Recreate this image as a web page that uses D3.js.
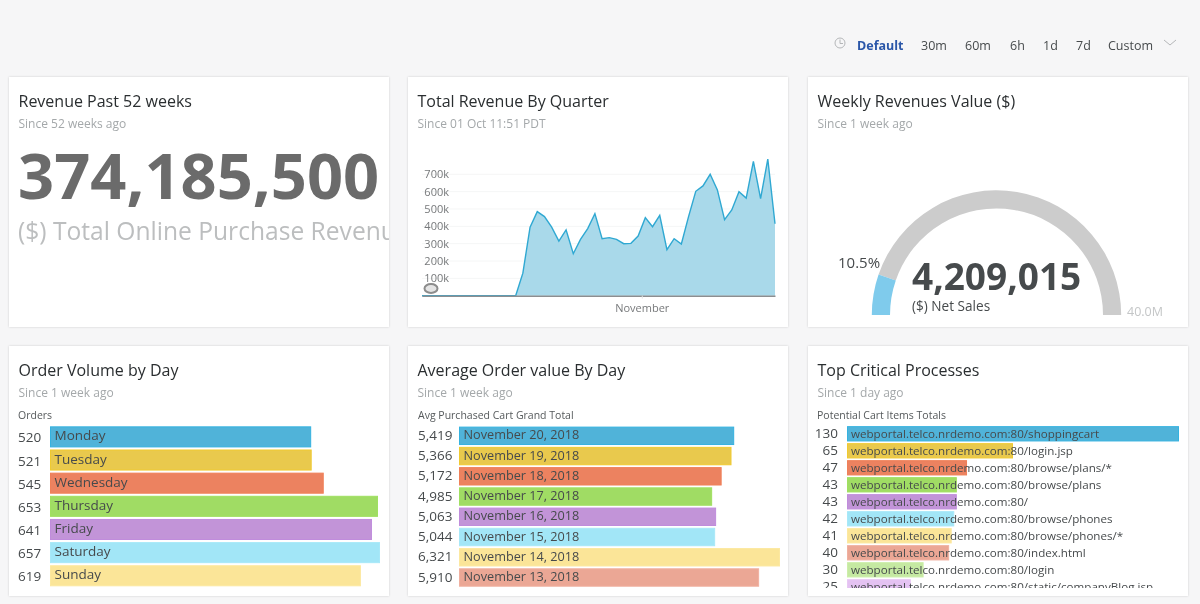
<!DOCTYPE html>
<html>
<head>
<meta charset="utf-8">
<script src="https://cdn.jsdelivr.net/npm/d3@7"></script>
<style>
html, body { margin: 0; padding: 0; background: #f6f6f7; overflow: hidden; }
svg { display: block; font-family: "Open Sans", sans-serif; filter: blur(0.3px); }
.card { fill: #fff; filter: drop-shadow(0 0 1px rgba(0,0,0,.16)); }
.title { font-size: 16px; fill: #2a2e30; }
.since { font-size: 12px; fill: #a4a8aa; }
.small { font-size: 10.5px; fill: #55595b; }
.val { font-size: 13.5px; fill: #464a4c; }
.barlabel { fill: #464a4c; }
</style>
</head>
<body>
<svg id="chart" width="1200" height="604"></svg>
<script>
// time picker
var timeLabels = ['Default', '30m', '60m', '6h', '1d', '7d', 'Custom'];

// revenue tile, the label runs off the tile after the u
var revenueValue = '374,185,500';
var revenueLabel = '($) Total Online Purchase Revenu';

// quarter chart, one point per day from 01 Oct
var quarterStart = new Date(2018, 9, 1, 11, 51);
var quarterValues = [0, 0, 0, 0, 0, 0, 0, 0, 0, 0, 0, 0, 0,
    0, 130000, 395000, 485000, 456000, 395000, 315000, 380000, 242000, 325000, 387000,
    473000, 329000, 335000, 325000, 300000, 302000, 344000, 450000, 398000, 463000, 265000,
    329000, 298000, 456000, 602000, 633000, 700000, 610000, 438000, 494000, 600000,
    563000, 775000, 560000, 788000, 415000];
var quarterTicks = [100000, 200000, 300000, 400000, 500000, 600000, 700000];

// gauge
var gaugeValue = 4209015;
var gaugeMax = 40000000;

// bar tiles
var dayNames = ['Monday', 'Tuesday', 'Wednesday', 'Thursday', 'Friday', 'Saturday', 'Sunday'];
var dayOrders = [520, 521, 545, 653, 641, 657, 619];

var orderDates = ['November 20, 2018', 'November 19, 2018', 'November 18, 2018', 'November 17, 2018',
    'November 16, 2018', 'November 15, 2018', 'November 14, 2018', 'November 13, 2018'];
var orderValues = [5419, 5366, 5172, 4985, 5063, 5044, 6321, 5910];

var processNames = ['shoppingcart', 'login.jsp', 'browse/plans/*', 'browse/plans', '', 'browse/phones',
    'browse/phones/*', 'index.html', 'login', 'static/companyBlog.jsp'];
var processValues = [130, 65, 47, 43, 43, 42, 41, 40, 30, 25];

var barColors = ['#50b3d9', '#e9c94d', '#ec8260', '#a0dc64', '#c294d8', '#a2e6f7', '#fbe598', '#eba795', '#c5e9a2', '#e4c2f2'];
var barStrokes = ['#35b2e0', '#f0ca30', '#f08058', '#a0e060', '#c08cdc', '#a8e8f8', '#fce8a0', '#f0b0a0', '#cdeeaa', '#e8c8f4'];

var svg = d3.select('#chart');
var defs = svg.append('defs');

function addCard(x, y, title, since, id, clipH) {
    var w = 380, h = 250;
    svg.append('rect').attr('class', 'card')
        .attr('x', x).attr('y', y).attr('width', w).attr('height', h);
    defs.append('clipPath').attr('id', id).append('rect')
        .attr('x', x).attr('y', y).attr('width', w).attr('height', clipH);
    svg.append('text').attr('class', 'title').attr('x', x + 9.5).attr('y', y + 30).text(title);
    svg.append('text').attr('class', 'since').attr('x', x + 9.5).attr('y', y + 51).text(since);
    return svg.append('g').attr('clip-path', 'url(#' + id + ')');
}

// this is the top bar
var pickerX = [857, 921, 965, 1010, 1043, 1076, 1108];
svg.selectAll('.pick').data(timeLabels).enter().append('text')
    .attr('x', function(d, i) { return pickerX[i]; })
    .attr('y', 50)
    .attr('font-size', 12.5)
    .attr('font-weight', function(d, i) { return i == 0 ? 700 : 400; })
    .attr('fill', function(d, i) { return i == 0 ? '#2a56a8' : '#464a4c'; })
    .text(function(d) { return d; });
svg.append('circle').attr('cx', 840).attr('cy', 43).attr('r', 5)
    .attr('fill', 'none').attr('stroke', '#b4b6b8');
svg.append('path').attr('d', 'M840 39.5V43.5H843').attr('fill', 'none').attr('stroke', '#b4b6b8');
svg.append('path').attr('d', 'M1164 40L1170 45L1176 40').attr('fill', 'none').attr('stroke', '#b4b6b8');

// tile 1, billboard
var g1 = addCard(9, 77, 'Revenue Past 52 weeks', 'Since 52 weeks ago', 'c1', 250);
g1.append('text').attr('x', 18).attr('y', 198.5)
    .attr('font-size', 63.2).attr('font-weight', 700).attr('fill', '#6b6b6b').text(revenueValue);
g1.append('text').attr('x', 18).attr('y', 240)
    .attr('font-size', 24.6).attr('fill', '#bcbebf').text(revenueLabel);

// tile 2, area chart
addCard(408, 77, 'Total Revenue By Quarter', 'Since 01 Oct 11:51 PDT', 'c2', 250);
var quarterDates = quarterValues.map(function(v, i) { return d3.timeDay.offset(quarterStart, i); });
var x = d3.scaleTime().domain(d3.extent(quarterDates)).range([422, 775]);
var y = d3.scaleLinear().domain([0, 700000]).range([295.7, 174.3]);

svg.append('g').selectAll('line').data(quarterTicks).enter().append('line')
    .attr('x1', 422).attr('x2', 775)
    .attr('y1', function(d) { return y(d); }).attr('y2', function(d) { return y(d); })
    .attr('stroke', '#f5f6f6');

svg.append('path').datum(quarterValues)
    .attr('fill', '#a9d9ea')
    .attr('d', d3.area()
        .x(function(d, i) { return x(quarterDates[i]); })
        .y0(y(0))
        .y1(function(d) { return y(d); }));
svg.append('path').datum(quarterValues)
    .attr('fill', 'none').attr('stroke', '#2fa8d2').attr('stroke-width', 1.4)
    .attr('d', d3.line()
        .x(function(d, i) { return x(quarterDates[i]); })
        .y(function(d) { return y(d); }));

var yAxis = svg.append('g').attr('transform', 'translate(452,0)')
    .call(d3.axisLeft(y).tickValues(quarterTicks).tickSize(0)
        .tickFormat(function(d) { return d / 1000 + 'k'; }));
yAxis.select('.domain').remove();
yAxis.selectAll('text').attr('font-family', '"Open Sans", sans-serif').attr('font-size', 11).attr('fill', '#77797b');

var xAxis = svg.append('g').attr('transform', 'translate(0,295.7)')
    .call(d3.axisBottom(x).ticks(d3.timeMonth.every(1)).tickSizeInner(3).tickSizeOuter(0).tickPadding(6)
        .tickFormat(d3.timeFormat('%B')));
xAxis.select('.domain').attr('stroke', '#8c8e90').attr('stroke-width', 1.6);
xAxis.selectAll('line').attr('stroke', '#e2e3e3');
xAxis.selectAll('text').attr('font-family', '"Open Sans", sans-serif').attr('font-size', 11).attr('fill', '#77797b');

svg.append('ellipse').attr('cx', 431).attr('cy', 288.5).attr('rx', 6.5).attr('ry', 4.5)
    .attr('fill', '#e4e4e4').attr('stroke', '#8c8c8c').attr('stroke-width', 2);

// tile 3, gauge
addCard(808, 77, 'Weekly Revenues Value ($)', 'Since 1 week ago', 'c3', 250);
var gaugeCenter = [996.5, 315];
var angle = d3.scaleLinear().domain([0, gaugeMax]).range([-Math.PI / 2, Math.PI / 2]);
var arc = d3.arc().innerRadius(106.5).outerRadius(124.7);
var gauge = svg.append('g').attr('transform', 'translate(' + gaugeCenter + ')');
gauge.append('path').attr('fill', '#cccccc')
    .attr('d', arc({startAngle: angle(gaugeValue), endAngle: angle(gaugeMax)}));
gauge.append('path').attr('fill', '#7fcbec')
    .attr('d', arc({startAngle: angle(0), endAngle: angle(gaugeValue)}));
svg.append('text').attr('x', 838).attr('y', 268).attr('font-size', 15).attr('fill', '#464a4c')
    .text(d3.format('.1%')(gaugeValue / gaugeMax));
svg.append('text').attr('x', 912).attr('y', 290).attr('font-size', 37).attr('font-weight', 700).attr('fill', '#464a4c')
    .text(d3.format(',')(gaugeValue));
svg.append('text').attr('x', 912).attr('y', 311).attr('font-size', 13.6).attr('fill', '#464a4c').text('($) Net Sales');
svg.append('text').attr('x', 1127).attr('y', 316).attr('font-size', 12.5).attr('fill', '#c4c6c7')
    .text(d3.format('.1f')(gaugeMax / 1000000) + 'M');

// bar tiles share this
function drawBars(parent, names, values, opts) {
    var bx = d3.scaleLinear().domain([0, opts.max]).range([opts.x0, opts.x1]);
    var by = d3.scaleBand().domain(d3.range(values.length))
        .range([opts.top, opts.top + opts.step * values.length]).paddingInner(opts.padding).paddingOuter(opts.padding / 2);
    var rows = parent.selectAll('.row').data(values).enter().append('g');
    rows.append('rect')
        .attr('x', opts.x0 + 0.5)
        .attr('y', function(d, i) { return by(i) + 0.5; })
        .attr('width', function(d) { return bx(d) - opts.x0 - 1; })
        .attr('height', by.bandwidth() - 1)
        .attr('fill', function(d, i) { return barColors[i]; })
        .attr('stroke', function(d, i) { return barStrokes[i]; });
    rows.append('text').attr('class', 'val')
        .attr('x', opts.valueX)
        .attr('text-anchor', opts.anchor)
        .attr('y', function(d, i) { return by(i) + by.bandwidth() / 2 + opts.valueDy; })
        .text(function(d) { return d3.format(',')(d); });
    rows.append('text').attr('class', 'barlabel')
        .attr('x', opts.x0 + opts.labelX)
        .style('font-size', opts.font + 'px')
        .attr('y', function(d, i) { return by(i) + by.bandwidth() / 2 + opts.labelDy; })
        .text(function(d, i) { return names[i]; });
}

var g4 = addCard(9, 346, 'Order Volume by Day', 'Since 1 week ago', 'c4', 242);
svg.append('text').attr('class', 'small').attr('x', 18).attr('y', 419).text('Orders');
drawBars(g4, dayNames, dayOrders, {max: 657, x0: 50, x1: 380, top: 425.3, step: 23.15, padding: 0.09,
    valueX: 18, anchor: 'start', font: 13.5, labelX: 4.5, labelDy: 3.5, valueDy: 5.5});

var g5 = addCard(408, 346, 'Average Order value By Day', 'Since 1 week ago', 'c5', 242);
svg.append('text').attr('class', 'small').attr('x', 418).attr('y', 419).text('Avg Purchased Cart Grand Total');
drawBars(g5, orderDates, orderValues, {max: 6321, x0: 459, x1: 780, top: 425.7, step: 20.24, padding: 0.09,
    valueX: 418, anchor: 'start', font: 12.7, labelX: 4.5, labelDy: 3.5, valueDy: 4});

var g6 = addCard(808, 346, 'Top Critical Processes', 'Since 1 day ago', 'c6', 242);
svg.append('text').attr('class', 'small').attr('x', 817).attr('y', 419).text('Potential Cart Items Totals');
var processLabels = processNames.map(function(d) { return 'webportal.telco.nrdemo.com:80/' + d; });
drawBars(g6, processLabels, processValues, {max: 130, x0: 847, x1: 1179, top: 425.3, step: 17, padding: 0.1,
    valueX: 838, anchor: 'end', font: 11.6, labelX: 4, labelDy: 4, valueDy: 4.5});
</script>
</body>
</html>
